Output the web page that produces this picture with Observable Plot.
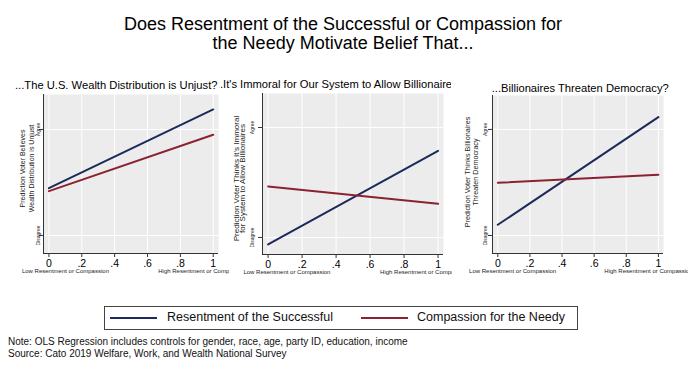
<!DOCTYPE html>
<html><head><meta charset="utf-8">
<script src="https://cdn.jsdelivr.net/npm/d3@7"></script>
<script src="https://cdn.jsdelivr.net/npm/@observablehq/plot@0.6"></script>
<style>
body{margin:0;background:#fff;font-family:"Liberation Sans",Arial,Helvetica,sans-serif;color:#111;}
#root{position:relative;width:700px;height:368px;overflow:hidden;background:#fff;}
.abs{position:absolute;white-space:nowrap;}
.abs svg{display:block;}
</style></head><body><div id="root"></div>
<script>
const mainTitle = ["Does Resentment of the Successful or Compassion for", "the Needy Motivate Belief That..."];
const seriesNames = ["Resentment of the Successful", "Compassion for the Needy"];
const seriesColors = ["#1b2a5a", "#8b2231"];
const xTicks = [0, 0.2, 0.4, 0.6, 0.8, 1];
const xTickLabels = ["0", ".2", ".4", ".6", ".8", "1"];
const yTicks = [0, 1];
const yTickLabels = ["Disagree", "Agree"];
const xEnds = ["Low Resentment or Compassion", "High Resentment or Compassion"];
const panelTitles = ["...The U.S. Wealth Distribution is Unjust?", "...It's Immoral for Our System to Allow Billionaires?", "...Billionaires Threaten Democracy?"];
const yTitles = ["Prediction Voter Believes\nWealth Distribution is Unjust", "Prediction Voter Thinks It's Immoral\nfor System to Allow Billionaires", "Prediction Voter Thinks Billionaires\nThreaten Democracy"];
const xPoints = [0, 1];
const resentment = [[0.446, 1.189], [-0.064, 0.788], [0.101, 1.116]];
const compassion = [[0.418, 0.950], [0.464, 0.306], [0.497, 0.573]];
const notes = ["Note: OLS Regression includes controls for gender, race, age, party ID, education, income", "Source: Cato 2019 Welfare, Work, and Wealth National Survey"];

const root = document.getElementById("root");
const FONT = '"Liberation Sans",Arial,Helvetica,sans-serif';
function addDiv(css, text) {
  const d = document.createElement("div");
  d.className = "abs";
  d.style.cssText = css;
  if (text != null) d.textContent = text;
  root.appendChild(d);
  return d;
}

// main title
const t = addDiv("left:0;top:15px;width:686px;text-align:center;font-size:18px;line-height:19px;color:#000;");
t.innerHTML = mainTitle.map(s => `<div>${s}</div>`).join("");

const xDom = [-0.033, 1.032];
const layout = [
  {left: 0, width: 229, mt: 14, mb: 27, ml: 43, mr: 11, yDom: [-0.170, 1.330], tickDx: -5.3, titleDx: -17, titleDy: -5.5, titleSize: 7, titleLH: 1.3, lowDx: -27, highDx: -55},
  {left: 220, width: 232, mt: 13, mb: 26, ml: 42, mr: 9, yDom: [-0.155, 1.309], tickDx: -10, titleDx: -22.6, titleDy: 4.5, titleSize: 8, titleLH: 0.85, lowDx: -24.7, highDx: -58},
  {left: 455, width: 233, mt: 15, mb: 27, ml: 37, mr: 25, yDom: [-0.170, 1.320], tickDx: -7.3, titleDx: -21, titleDy: -2.5, titleSize: 7.2, titleLH: 1.05, lowDx: -28.7, highDx: -54}
];

layout.forEach((L, k) => {
  const rows = [];
  xPoints.forEach((x, i) => rows.push({x, y: resentment[k][i], series: seriesNames[0]}));
  xPoints.forEach((x, i) => rows.push({x, y: compassion[k][i], series: seriesNames[1]}));
  const chart = Plot.plot({
    width: L.width, height: 200,
    marginTop: L.mt, marginBottom: L.mb, marginLeft: L.ml, marginRight: L.mr,
    x: {domain: xDom},
    y: {domain: L.yDom},
    color: {domain: seriesNames, range: seriesColors},
    style: {background: "transparent", overflow: "hidden", fontFamily: FONT, color: "#111"},
    marks: [
      Plot.frame({fill: "#ececec", stroke: null}),
      Plot.gridX(xTicks, {stroke: "#fff", strokeOpacity: 1, strokeWidth: 1}),
      Plot.gridY(yTicks, {stroke: "#fff", strokeOpacity: 1, strokeWidth: 1}),
      Plot.ruleX([xDom[0]], {stroke: "#333", strokeWidth: 1}),
      Plot.ruleY([L.yDom[0]], {stroke: "#333", strokeWidth: 1}),
      Plot.axisX(xTicks, {tickFormat: d => xTickLabels[xTicks.indexOf(d)], tickSize: 4, tickPadding: 2, fontSize: 10.5, label: null, stroke: "#333", fill: "#000"}),
      Plot.axisY(yTicks, {tickFormat: () => "", tickSize: 4, label: null, stroke: "#333"}),
      Plot.text(yTicks, {y: d => d, text: d => yTickLabels[yTicks.indexOf(d)], frameAnchor: "left", textAnchor: "middle", rotate: -90, dx: L.tickDx, fontSize: 5, fill: "#222"}),
      Plot.text([yTitles[k]], {text: d => d, frameAnchor: "left", textAnchor: "middle", lineAnchor: "middle", rotate: -90, dx: L.titleDx, dy: L.titleDy, fontSize: L.titleSize, lineHeight: L.titleLH, fill: "#222"}),
      Plot.text([xEnds[0]], {text: d => d, x: xPoints[0], frameAnchor: "bottom", textAnchor: "start", dx: L.lowDx, dy: 19, fontSize: 6, fill: "#222"}),
      Plot.text([xEnds[1]], {text: d => d, x: xPoints[1], frameAnchor: "bottom", textAnchor: "start", dx: L.highDx, dy: 19, fontSize: 6, fill: "#222"}),
      Plot.line(rows, {x: "x", y: "y", z: "series", stroke: "series", strokeWidth: 2})
    ]
  });
  const holder = addDiv(`left:${L.left}px;top:80px;width:${L.width}px;height:200px;overflow:hidden;`);
  holder.appendChild(chart);
});

// panel titles
addDiv(`left:15px;top:78.5px;font-size:11.2px;line-height:13px;color:#000;`, panelTitles[0]);
const clip2 = addDiv(`left:219px;top:77.5px;width:232px;height:14px;overflow:hidden;`);
const inner2 = document.createElement("div");
inner2.className = "abs";
inner2.style.cssText = "left:-5.3px;top:0;font-size:11.2px;line-height:13px;color:#000;";
inner2.textContent = panelTitles[1];
clip2.appendChild(inner2);
addDiv(`left:491.7px;top:81.5px;font-size:11.2px;line-height:13px;color:#000;`, panelTitles[2]);

// legend
addDiv("left:104px;top:305.5px;width:474px;height:24px;box-sizing:border-box;border:1px solid #444;background:#fff;");
const swX = [110, 361], txX = [167, 417];
seriesNames.forEach((name, i) => {
  addDiv(`left:${swX[i]}px;top:316.7px;width:47px;height:2px;background:${seriesColors[i]};`);
  addDiv(`left:${txX[i]}px;top:310px;font-size:12.5px;line-height:15px;color:#111;`, name);
});

// notes
notes.forEach((n, i) => addDiv(`left:8px;top:${336 + i * 12}px;font-size:10px;line-height:12px;color:#111;`, n));
</script>
</body></html>
